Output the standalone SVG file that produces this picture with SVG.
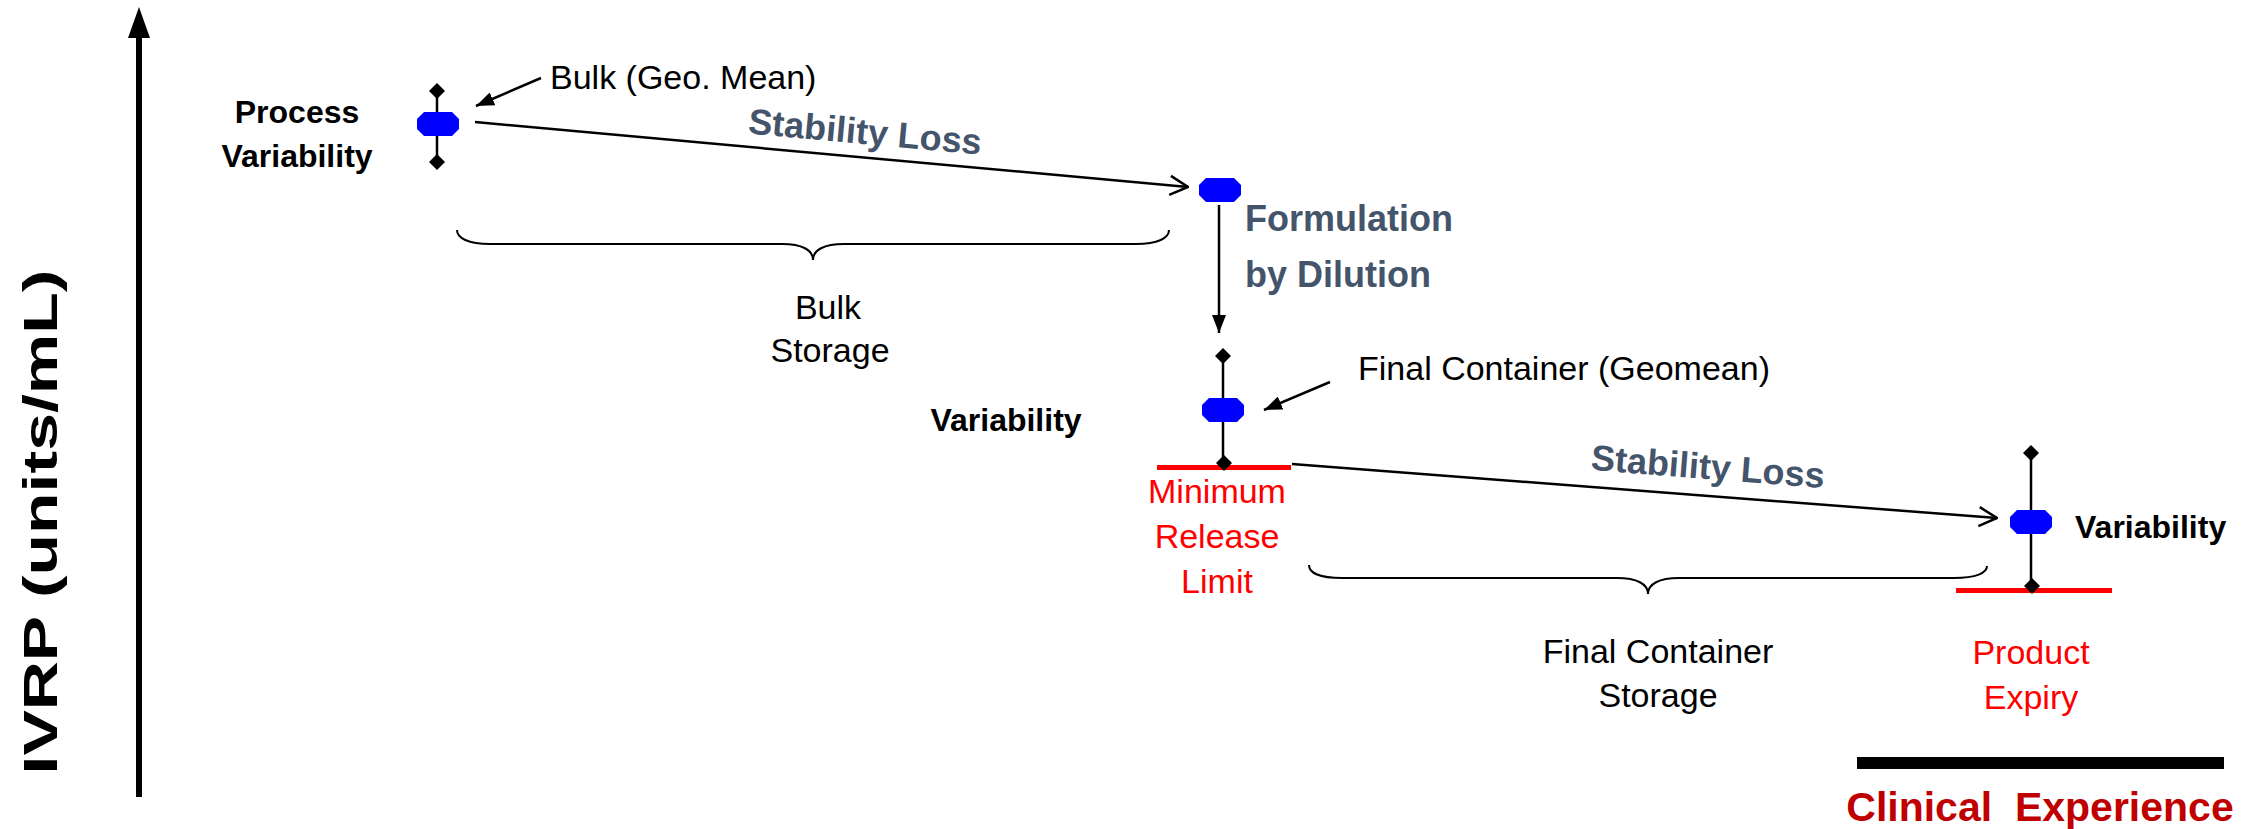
<svg xmlns="http://www.w3.org/2000/svg" xmlns:xlink="http://www.w3.org/1999/xlink" width="2254" height="829" viewBox="0 0 2254 829">
<style>
.reg{font-family:"Liberation Sans",Arial,sans-serif;font-size:34px;fill:#000}
.bold{font-family:"Liberation Sans",Arial,sans-serif;font-weight:bold;font-size:32px;fill:#000}
.slate{font-family:"Liberation Sans",Arial,sans-serif;font-weight:bold;font-size:36px;fill:#44546A}
.red{font-family:"Liberation Sans",Arial,sans-serif;font-size:34px;fill:#FF0000}
.conn{stroke:#000;stroke-width:2.5;fill:none}
.brace{stroke:#000;stroke-width:2;fill:none}
.bar{stroke:#000;stroke-width:2.5}
.limit{stroke:#FF0000;stroke-width:5}
.oct{fill:#0000FF}
.dia{fill:#000}
</style>
<defs>
<polygon id="oct" points="-14,-12 14,-12 21,-5 21,5 14,12 -14,12 -21,5 -21,-5"/>
<polygon id="dia" points="0,-8 8,0 0,8 -8,0"/>
<marker id="tri" viewBox="0 0 18 14" refX="18" refY="7" markerWidth="18" markerHeight="14" markerUnits="userSpaceOnUse" orient="auto"><path d="M0,0 L18,7 L0,14 Z" fill="#000"/></marker>
<marker id="vee" viewBox="0 0 20 22" refX="19" refY="11" markerWidth="20" markerHeight="22" markerUnits="userSpaceOnUse" orient="auto"><path d="M1,1.5 L19,11 L1,20.5" fill="none" stroke="#000" stroke-width="2.5"/></marker>
</defs>

<g id="axis">
<line x1="139" y1="797" x2="139" y2="34" stroke="#000" stroke-width="6"/>
<polygon points="139,7 128,38 150,38" fill="#000"/>
<text class="bold" style="font-size:48px" transform="translate(57,522) rotate(-90)" text-anchor="middle" textLength="505" lengthAdjust="spacingAndGlyphs">IVRP (units/mL)</text>
</g>

<g id="connectors">
<line class="conn" x1="541" y1="78" x2="476" y2="106" marker-end="url(#tri)"/>
<line class="conn" x1="475" y1="122" x2="1188" y2="187" marker-end="url(#vee)"/>
<line class="conn" x1="1219" y1="205" x2="1219" y2="333" marker-end="url(#tri)"/>
<line class="conn" x1="1330" y1="382" x2="1264" y2="410" marker-end="url(#tri)"/>
<line class="conn" x1="1292" y1="464" x2="1997" y2="518" marker-end="url(#vee)"/>
<path class="brace" d="M457,230 C457,238 468,244 490,244 L782,244 C802,244 813,250 813,260 C813,250 824,244 844,244 L1136,244 C1158,244 1169,238 1169,230"/>
<path class="brace" d="M1309,565 C1309,573 1320,578 1342,578 L1617,578 C1637,578 1648,584 1648,594 C1648,584 1659,578 1679,578 L1954,578 C1976,578 1987,573 1987,566"/>
</g>

<g id="bulk">
<line class="bar" x1="437" y1="91" x2="437" y2="162"/>
<use href="#dia" x="437" y="91" class="dia"/>
<use href="#dia" x="437" y="162" class="dia"/>
<use href="#oct" x="438" y="124" class="oct"/>
<text class="bold" x="297" y="123" text-anchor="middle">Process</text>
<text class="bold" x="297" y="167" text-anchor="middle">Variability</text>
<text class="reg" x="550" y="89">Bulk (Geo. Mean)</text>
</g>

<g id="stability1">
<text class="slate" transform="translate(864,144) rotate(5.2)" text-anchor="middle">Stability Loss</text>
</g>

<g id="formulation">
<use href="#oct" x="1220" y="190" class="oct"/>
<text class="slate" x="1245" y="231">Formulation</text>
<text class="slate" x="1245" y="287">by Dilution</text>
</g>

<g id="bulk-storage">
<text class="reg" x="828" y="319" text-anchor="middle">Bulk</text>
<text class="reg" x="830" y="362" text-anchor="middle">Storage</text>
</g>

<g id="final-container">
<line class="limit" x1="1157" y1="467.5" x2="1291" y2="467.5"/>
<line class="bar" x1="1223" y1="356" x2="1223" y2="463"/>
<use href="#dia" x="1223" y="356" class="dia"/>
<use href="#dia" x="1224" y="463" class="dia"/>
<use href="#oct" x="1223" y="410" class="oct"/>
<text class="reg" x="1358" y="380">Final Container (Geomean)</text>
<text class="bold" x="1006" y="431" text-anchor="middle">Variability</text>
<text class="red" x="1217" y="503" text-anchor="middle">Minimum</text>
<text class="red" x="1217" y="548" text-anchor="middle">Release</text>
<text class="red" x="1217" y="593" text-anchor="middle">Limit</text>
</g>

<g id="stability2">
<text class="slate" transform="translate(1707,479) rotate(4.5)" text-anchor="middle">Stability Loss</text>
</g>

<g id="product">
<line class="limit" x1="1956" y1="590.5" x2="2112" y2="590.5"/>
<line class="bar" x1="2031" y1="453" x2="2031" y2="586"/>
<use href="#dia" x="2031" y="453" class="dia"/>
<use href="#dia" x="2032" y="586" class="dia"/>
<use href="#oct" x="2031" y="522" class="oct"/>
<text class="bold" x="2075" y="538">Variability</text>
<text class="red" x="2031" y="664" text-anchor="middle">Product</text>
<text class="red" x="2031" y="709" text-anchor="middle">Expiry</text>
</g>

<g id="fc-storage">
<text class="reg" x="1658" y="663" text-anchor="middle">Final Container</text>
<text class="reg" x="1658" y="707" text-anchor="middle">Storage</text>
</g>

<g id="clinical">
<line x1="1857" y1="763" x2="2224" y2="763" stroke="#000" stroke-width="12"/>
<text xml:space="preserve" x="2040" y="821" text-anchor="middle" style="font-family:'Liberation Sans',Arial,sans-serif;font-weight:bold;font-size:41px;fill:#C00000">Clinical  Experience</text>
</g>
</svg>
